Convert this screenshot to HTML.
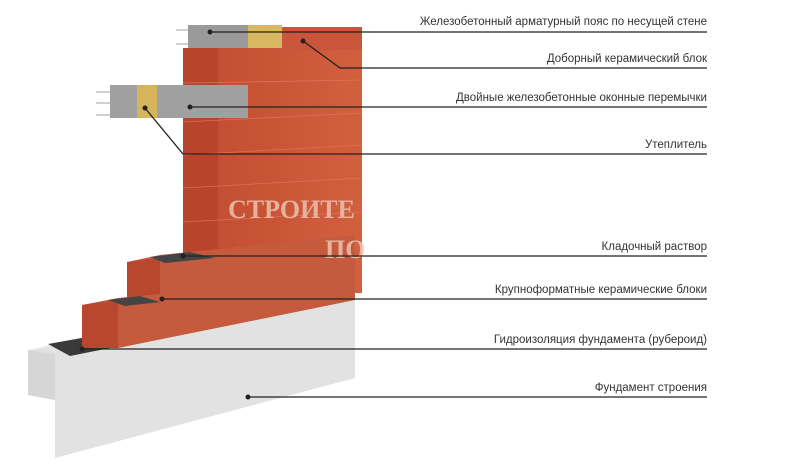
<!DOCTYPE html>
<html><head><meta charset="utf-8"><style>
html,body{margin:0;padding:0;background:#fff;width:800px;height:465px;overflow:hidden}
svg{display:block}
text{font-family:"Liberation Sans","DejaVu Sans",sans-serif;font-size:11.5px;fill:#333}
</style></head><body>
<svg width="800" height="465" viewBox="0 0 800 465">
<defs>
<linearGradient id="br" x1="0" x2="1"><stop offset="0" stop-color="#c04a2e"/><stop offset="1" stop-color="#d2603f"/></linearGradient>
</defs>
<!-- foundation -->
<polygon points="28,350 355,300 355,378 55,458 55,400 28,395" fill="#e2e2e2"/>
<polygon points="28,350 55,354 55,458 55,400 28,395" fill="#d6d6d6"/>
<polygon points="28,350 80,337 355,294 355,300" fill="#f0f0f0"/>
<polygon points="48,344 82,338 110,348 70,356" fill="#3a3a3a"/>
<!-- main wall -->
<rect x="183" y="48" width="179" height="245" fill="url(#br)"/>
<rect x="183" y="48" width="35" height="245" fill="#b8452b"/>
<g stroke="#e07a5c" stroke-width="0.8" opacity="0.8">
<line x1="183" y1="83" x2="362" y2="80"/><line x1="183" y1="122" x2="362" y2="113"/>
<line x1="183" y1="155" x2="362" y2="145"/><line x1="183" y1="188" x2="362" y2="178"/>
<line x1="183" y1="222" x2="362" y2="212"/><line x1="183" y1="256" x2="362" y2="245"/>
</g>
<!-- top beam row -->
<rect x="188" y="25" width="60" height="23" fill="#9a9a9a"/>
<rect x="248" y="25" width="34" height="23" fill="#d8b860"/>
<rect x="282" y="27" width="80" height="23" fill="#c9553a"/>
<!-- window lintel -->
<rect x="110" y="85" width="138" height="33" fill="#a0a0a0"/>
<rect x="137" y="85" width="20" height="33" fill="#d6b45c"/>
<g stroke="#888" stroke-width="0.8"><line x1="96" y1="92" x2="110" y2="92"/><line x1="96" y1="103" x2="110" y2="103"/><line x1="96" y1="115" x2="110" y2="115"/>
<line x1="176" y1="30" x2="188" y2="30"/><line x1="176" y1="44" x2="188" y2="44"/></g>
<!-- step 1 -->
<polygon points="127,262 160,255 355,235 355,275 160,300 127,300" fill="#c65a3c"/>
<polygon points="127,262 160,258 160,300 127,300" fill="#b9472d"/>
<polygon points="150,257 190,252 215,258 165,263" fill="#444"/>
<!-- step 2 -->
<polygon points="82,305 118,298 355,275 355,300 118,348 82,348" fill="#c65a3c"/>
<polygon points="82,305 118,300 118,348 82,348" fill="#b9472d"/>
<polygon points="108,300 140,296 160,302 125,306" fill="#444"/>
<!-- watermark -->
<text x="228" y="218" style="font-family:'Liberation Serif',serif;font-size:26px;font-weight:bold;fill:#f0c8b8;opacity:.8">СТРОИТЕ</text>
<text x="325" y="258" style="font-family:'Liberation Serif',serif;font-size:26px;font-weight:bold;fill:#f0c8b8;opacity:.8">ПО</text>
<!-- leaders -->
<g stroke="#222" stroke-width="1.3" fill="none">
<polyline points="210,32 707,32"/>
<polyline points="303,41 340,68 707,68"/>
<polyline points="190,107 707,107"/>
<polyline points="145,108 183,154 707,154"/>
<polyline points="183,256 707,256"/>
<polyline points="162,299 707,299"/>
<polyline points="82,349 707,349"/>
<polyline points="248,397 707,397"/>
</g>
<g fill="#222"><circle cx="210" cy="32" r="2.5"/><circle cx="303" cy="41" r="2.5"/><circle cx="190" cy="107" r="2.5"/><circle cx="145" cy="108" r="2.5"/><circle cx="183" cy="256" r="2.5"/><circle cx="162" cy="299" r="2.5"/><circle cx="82" cy="349" r="2.5"/><circle cx="248" cy="397" r="2.5"/></g>
<g text-anchor="end">
<text x="707" y="25">Железобетонный арматурный пояс по несущей стене</text>
<text x="707" y="62">Доборный керамический блок</text>
<text x="707" y="101">Двойные железобетонные оконные перемычки</text>
<text x="707" y="148">Утеплитель</text>
<text x="707" y="250">Кладочный раствор</text>
<text x="707" y="293">Крупноформатные керамические блоки</text>
<text x="707" y="343">Гидроизоляция фундамента (рубероид)</text>
<text x="707" y="391">Фундамент строения</text>
</g>
</svg>
</body></html>
